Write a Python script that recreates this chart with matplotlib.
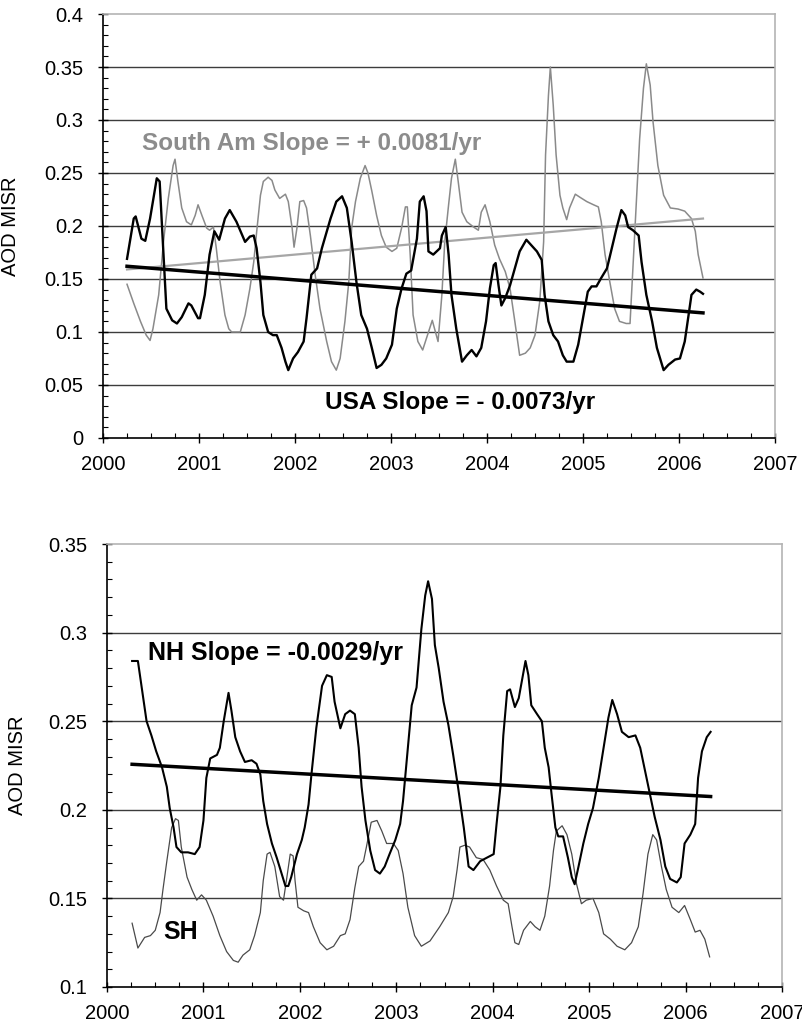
import numpy as np
import matplotlib
matplotlib.use("Agg")
import matplotlib.pyplot as plt
from matplotlib.ticker import MultipleLocator, FuncFormatter

plt.rcParams['font.family'] = ['Liberation Sans', 'DejaVu Sans']

# ---------------- top panel: USA and South America ----------------
usa_year = [2000.25, 2000.32, 2000.34, 2000.40, 2000.44, 2000.49, 2000.56, 2000.59, 2000.63, 2000.66,
            2000.72, 2000.77, 2000.82, 2000.89, 2000.92, 2000.99, 2001.01, 2001.06, 2001.11, 2001.16,
            2001.21, 2001.27, 2001.32, 2001.39, 2001.48, 2001.53, 2001.57, 2001.60, 2001.64, 2001.67,
            2001.72, 2001.77, 2001.81, 2001.86, 2001.90, 2001.93, 2001.98, 2002.03, 2002.09, 2002.12,
            2002.17, 2002.23, 2002.28, 2002.37, 2002.43, 2002.49, 2002.54, 2002.59, 2002.64, 2002.69,
            2002.75, 2002.80, 2002.85, 2002.90, 2002.95, 2003.01, 2003.06, 2003.11, 2003.16, 2003.21,
            2003.27, 2003.30, 2003.34, 2003.37, 2003.39, 2003.44, 2003.51, 2003.53, 2003.57, 2003.60,
            2003.63, 2003.68, 2003.74, 2003.79, 2003.84, 2003.89, 2003.94, 2003.99, 2004.03, 2004.07,
            2004.09, 2004.12, 2004.15, 2004.19, 2004.24, 2004.29, 2004.34, 2004.41, 2004.46, 2004.52,
            2004.57, 2004.60, 2004.64, 2004.69, 2004.74, 2004.79, 2004.83, 2004.90, 2004.95, 2005.00,
            2005.05, 2005.09, 2005.14, 2005.19, 2005.25, 2005.30, 2005.35, 2005.40, 2005.44, 2005.47,
            2005.52, 2005.58, 2005.61, 2005.66, 2005.72, 2005.77, 2005.84, 2005.89, 2005.96, 2006.01,
            2006.06, 2006.10, 2006.13, 2006.18, 2006.22, 2006.25]
usa_aod = [0.169, 0.207, 0.209, 0.188, 0.186, 0.207, 0.245, 0.242, 0.173, 0.122,
           0.111, 0.108, 0.114, 0.127, 0.125, 0.113, 0.113, 0.135, 0.173, 0.195,
           0.187, 0.207, 0.215, 0.204, 0.185, 0.190, 0.191, 0.179, 0.147, 0.116,
           0.100, 0.097, 0.097, 0.085, 0.072, 0.064, 0.075, 0.081, 0.091, 0.113,
           0.154, 0.160, 0.179, 0.207, 0.223, 0.228, 0.217, 0.185, 0.147, 0.116,
           0.103, 0.085, 0.066, 0.069, 0.075, 0.088, 0.122, 0.141, 0.155, 0.158,
           0.188, 0.223, 0.228, 0.214, 0.176, 0.173, 0.179, 0.191, 0.199, 0.173,
           0.135, 0.103, 0.072, 0.078, 0.083, 0.077, 0.085, 0.110, 0.141, 0.163,
           0.165, 0.144, 0.125, 0.132, 0.144, 0.160, 0.176, 0.187, 0.182, 0.176,
           0.168, 0.135, 0.110, 0.097, 0.091, 0.078, 0.072, 0.072, 0.088, 0.113,
           0.138, 0.143, 0.143, 0.151, 0.160, 0.179, 0.198, 0.215, 0.210, 0.199,
           0.196, 0.191, 0.166, 0.135, 0.110, 0.085, 0.064, 0.069, 0.074, 0.075,
           0.091, 0.116, 0.135, 0.140, 0.138, 0.136]

sam_year = [2000.25, 2000.32, 2000.39, 2000.45, 2000.49, 2000.52, 2000.58, 2000.63, 2000.68, 2000.73,
            2000.75, 2000.78, 2000.82, 2000.87, 2000.92, 2000.96, 2000.99, 2001.03, 2001.08, 2001.11,
            2001.15, 2001.18, 2001.22, 2001.27, 2001.31, 2001.34, 2001.43, 2001.48, 2001.53, 2001.57,
            2001.60, 2001.64, 2001.67, 2001.72, 2001.76, 2001.79, 2001.84, 2001.90, 2001.93, 2001.97,
            2001.99, 2002.02, 2002.05, 2002.09, 2002.12, 2002.16, 2002.21, 2002.26, 2002.33, 2002.38,
            2002.43, 2002.47, 2002.52, 2002.56, 2002.59, 2002.63, 2002.68, 2002.73, 2002.76, 2002.80,
            2002.85, 2002.90, 2002.95, 2003.01, 2003.06, 2003.11, 2003.15, 2003.17, 2003.20, 2003.23,
            2003.28, 2003.33, 2003.43, 2003.49, 2003.53, 2003.56, 2003.60, 2003.63, 2003.67, 2003.70,
            2003.74, 2003.79, 2003.86, 2003.91, 2003.94, 2003.98, 2004.03, 2004.08, 2004.13, 2004.19,
            2004.24, 2004.29, 2004.34, 2004.40, 2004.45, 2004.50, 2004.55, 2004.59, 2004.61, 2004.64,
            2004.66, 2004.69, 2004.72, 2004.76, 2004.79, 2004.83, 2004.86, 2004.92, 2004.97, 2005.04,
            2005.11, 2005.16, 2005.19, 2005.23, 2005.28, 2005.33, 2005.38, 2005.45, 2005.49, 2005.52,
            2005.56, 2005.59, 2005.63, 2005.66, 2005.70, 2005.73, 2005.78, 2005.84, 2005.91, 2005.99,
            2006.06, 2006.13, 2006.17, 2006.20, 2006.25]
sam_aod = [0.145, 0.127, 0.110, 0.097, 0.092, 0.103, 0.135, 0.185, 0.226, 0.257,
           0.263, 0.242, 0.217, 0.204, 0.201, 0.210, 0.220, 0.210, 0.198, 0.196,
           0.199, 0.179, 0.147, 0.116, 0.103, 0.100, 0.100, 0.116, 0.141, 0.166,
           0.194, 0.229, 0.242, 0.246, 0.243, 0.234, 0.226, 0.230, 0.223, 0.198,
           0.180, 0.198, 0.223, 0.224, 0.217, 0.191, 0.154, 0.122, 0.091, 0.072,
           0.064, 0.075, 0.110, 0.147, 0.198, 0.223, 0.245, 0.257, 0.250, 0.233,
           0.210, 0.191, 0.180, 0.176, 0.179, 0.198, 0.218, 0.218, 0.173, 0.116,
           0.091, 0.083, 0.111, 0.091, 0.135, 0.185, 0.220, 0.245, 0.263, 0.242,
           0.213, 0.204, 0.199, 0.196, 0.213, 0.220, 0.204, 0.182, 0.169, 0.157,
           0.141, 0.110, 0.078, 0.080, 0.085, 0.097, 0.129, 0.185, 0.267, 0.323,
           0.350, 0.314, 0.267, 0.229, 0.217, 0.206, 0.217, 0.230, 0.227, 0.223,
           0.220, 0.218, 0.204, 0.173, 0.147, 0.122, 0.110, 0.108, 0.108, 0.160,
           0.229, 0.282, 0.330, 0.353, 0.333, 0.298, 0.257, 0.229, 0.217, 0.216,
           0.214, 0.207, 0.195, 0.173, 0.151]

trend_year = [2000.25, 2006.25]
usa_trend = [0.162, 0.118]
sam_trend = [0.159, 0.207]

# ---------------- bottom panel: NH and SH ----------------
nh_year = [2000.26, 2000.32, 2000.36, 2000.41, 2000.46, 2000.51, 2000.57, 2000.62, 2000.65, 2000.69,
           2000.72, 2000.77, 2000.84, 2000.91, 2000.96, 2001.00, 2001.03, 2001.07, 2001.14, 2001.17,
           2001.21, 2001.26, 2001.29, 2001.33, 2001.38, 2001.43, 2001.50, 2001.55, 2001.59, 2001.62,
           2001.66, 2001.71, 2001.76, 2001.81, 2001.85, 2001.88, 2001.91, 2001.97, 2002.02, 2002.05,
           2002.09, 2002.12, 2002.17, 2002.23, 2002.28, 2002.33, 2002.36, 2002.42, 2002.47, 2002.52,
           2002.57, 2002.61, 2002.64, 2002.68, 2002.73, 2002.78, 2002.83, 2002.88, 2002.93, 2002.99,
           2003.04, 2003.07, 2003.12, 2003.16, 2003.21, 2003.26, 2003.30, 2003.33, 2003.37, 2003.40,
           2003.44, 2003.49, 2003.54, 2003.59, 2003.64, 2003.70, 2003.75, 2003.80, 2003.87, 2003.94,
           2004.01, 2004.04, 2004.08, 2004.11, 2004.15, 2004.18, 2004.23, 2004.27, 2004.34, 2004.37,
           2004.40, 2004.46, 2004.51, 2004.54, 2004.58, 2004.61, 2004.65, 2004.68, 2004.73, 2004.78,
           2004.82, 2004.85, 2004.89, 2004.94, 2004.99, 2005.04, 2005.10, 2005.15, 2005.20, 2005.24,
           2005.29, 2005.34, 2005.41, 2005.48, 2005.53, 2005.58, 2005.63, 2005.68, 2005.74, 2005.79,
           2005.84, 2005.91, 2005.95, 2005.99, 2006.05, 2006.10, 2006.13, 2006.17, 2006.22, 2006.26]
nh_aod = [0.284, 0.284, 0.269, 0.250, 0.242, 0.233, 0.224, 0.213, 0.201, 0.190,
          0.179, 0.176, 0.176, 0.175, 0.179, 0.194, 0.218, 0.229, 0.231, 0.235,
          0.250, 0.266, 0.256, 0.241, 0.233, 0.227, 0.228, 0.226, 0.220, 0.205,
          0.192, 0.181, 0.173, 0.164, 0.157, 0.157, 0.162, 0.175, 0.183, 0.190,
          0.203, 0.220, 0.246, 0.270, 0.276, 0.275, 0.261, 0.246, 0.254, 0.256,
          0.254, 0.235, 0.213, 0.194, 0.177, 0.166, 0.164, 0.168, 0.175, 0.183,
          0.192, 0.205, 0.235, 0.259, 0.269, 0.302, 0.321, 0.329, 0.319, 0.293,
          0.280, 0.261, 0.248, 0.231, 0.213, 0.190, 0.168, 0.166, 0.171, 0.173,
          0.175, 0.192, 0.213, 0.242, 0.267, 0.268, 0.258, 0.263, 0.284, 0.276,
          0.259, 0.254, 0.250, 0.235, 0.224, 0.209, 0.190, 0.185, 0.185, 0.173,
          0.162, 0.158, 0.168, 0.181, 0.192, 0.201, 0.218, 0.235, 0.252, 0.262,
          0.254, 0.244, 0.241, 0.242, 0.235, 0.222, 0.209, 0.196, 0.183, 0.168,
          0.161, 0.159, 0.162, 0.181, 0.186, 0.192, 0.218, 0.233, 0.241, 0.244]

sh_year = [2000.26, 2000.32, 2000.39, 2000.45, 2000.50, 2000.55, 2000.58, 2000.62, 2000.67, 2000.71,
           2000.74, 2000.77, 2000.83, 2000.88, 2000.93, 2000.98, 2001.03, 2001.10, 2001.17, 2001.24,
           2001.31, 2001.36, 2001.41, 2001.48, 2001.53, 2001.59, 2001.62, 2001.66, 2001.69, 2001.74,
           2001.79, 2001.83, 2001.86, 2001.90, 2001.93, 2001.95, 2001.98, 2002.04, 2002.09, 2002.14,
           2002.21, 2002.28, 2002.35, 2002.42, 2002.47, 2002.52, 2002.57, 2002.61, 2002.66, 2002.69,
           2002.74, 2002.80, 2002.85, 2002.90, 2002.97, 2003.02, 2003.07, 2003.12, 2003.19, 2003.26,
           2003.35, 2003.45, 2003.54, 2003.59, 2003.63, 2003.66, 2003.71, 2003.76, 2003.83, 2003.90,
           2003.97, 2004.04, 2004.11, 2004.16, 2004.20, 2004.23, 2004.27, 2004.32, 2004.39, 2004.44,
           2004.49, 2004.54, 2004.59, 2004.63, 2004.66, 2004.72, 2004.77, 2004.82, 2004.87, 2004.92,
           2004.97, 2005.04, 2005.10, 2005.15, 2005.22, 2005.29, 2005.37, 2005.44, 2005.51, 2005.56,
           2005.61, 2005.66, 2005.70, 2005.75, 2005.80, 2005.86, 2005.93, 2005.99, 2006.05, 2006.10,
           2006.15, 2006.20, 2006.25]
sh_aod = [0.136, 0.122, 0.128, 0.129, 0.132, 0.142, 0.155, 0.171, 0.190, 0.195,
          0.194, 0.179, 0.162, 0.155, 0.149, 0.152, 0.149, 0.140, 0.129, 0.120,
          0.115, 0.114, 0.118, 0.121, 0.129, 0.142, 0.160, 0.175, 0.176, 0.168,
          0.151, 0.149, 0.160, 0.175, 0.174, 0.160, 0.145, 0.143, 0.142, 0.134,
          0.125, 0.121, 0.123, 0.129, 0.130, 0.138, 0.156, 0.168, 0.171, 0.179,
          0.193, 0.194, 0.188, 0.181, 0.181, 0.177, 0.164, 0.145, 0.129, 0.123,
          0.126, 0.134, 0.142, 0.151, 0.166, 0.179, 0.180, 0.179, 0.173, 0.172,
          0.166, 0.157, 0.149, 0.147, 0.134, 0.125, 0.124, 0.132, 0.137, 0.134,
          0.132, 0.140, 0.157, 0.177, 0.188, 0.191, 0.186, 0.175, 0.158, 0.147,
          0.149, 0.150, 0.142, 0.130, 0.127, 0.123, 0.121, 0.125, 0.134, 0.153,
          0.175, 0.186, 0.183, 0.168, 0.155, 0.145, 0.142, 0.146, 0.138, 0.131,
          0.132, 0.127, 0.117]

nh_trend_year = [2000.26, 2006.26]
nh_trend = [0.2257, 0.2075]


def style(ax, ymin, ymax):
    ax.set_xlim(2000, 2007)
    ax.set_ylim(ymin, ymax)
    ax.xaxis.set_major_locator(MultipleLocator(1))
    ax.xaxis.set_minor_locator(MultipleLocator(0.25))
    ax.yaxis.set_major_locator(MultipleLocator(0.05))
    ax.yaxis.set_minor_locator(MultipleLocator(0.01))
    ax.xaxis.set_major_formatter(FuncFormatter(lambda v, p: '%d' % round(v)))
    ax.yaxis.set_major_formatter(FuncFormatter(lambda v, p: '%g' % round(v, 3)))
    # horizontal gridlines between bottom axis and top frame
    for g in np.arange(ymin + 0.05, ymax - 0.01, 0.05):
        ax.axhline(g, color='#3c3c3c', lw=1.0, zorder=1)
    ax.spines['left'].set_color('black')
    ax.spines['bottom'].set_color('black')
    ax.spines['left'].set_linewidth(1.2)
    ax.spines['bottom'].set_linewidth(1.2)
    ax.spines['top'].set_color('#b4b4b4')
    ax.spines['right'].set_color('#b4b4b4')
    ax.spines['top'].set_linewidth(1.2)
    ax.spines['right'].set_linewidth(1.2)
    ax.tick_params(which='major', direction='inout', length=7, width=1.0,
                   labelsize=14.5, top=False, right=False)
    ax.tick_params(axis='x', which='major', pad=9)
    ax.tick_params(axis='y', which='major', pad=11)
    ax.tick_params(which='minor', direction='in', length=3.5, width=0.8,
                   top=False, right=False)


fig = plt.figure(figsize=(8.03, 10.3), dpi=100)

ax1 = fig.add_axes([0.1283, 0.5748, 0.8368, 0.4116])
style(ax1, 0, 0.4)
ax1.plot(sam_year, sam_aod, color='#8a8a8a', lw=1.1, zorder=3)
ax1.plot(usa_year, usa_aod, color='black', lw=1.7, zorder=4)
ax1.plot(trend_year, sam_trend, color='#a6a6a6', lw=1.6, zorder=3)
ax1.plot(trend_year, usa_trend, color='black', lw=2.5, zorder=4)
ax1.text(2000.41, 0.278, 'South Am Slope = + 0.0081/yr', color='#8c8c8c',
         fontsize=17.5, fontweight='bold', ha='left', va='center')
ax1.text(2002.31, 0.033, 'USA Slope = - 0.0073/yr', color='black',
         fontsize=17.5, fontweight='bold', ha='left', va='center')
ax1.set_ylabel('AOD MISR', fontsize=14.5)
ax1.yaxis.set_label_coords(-0.123, 0.5)

ax2 = fig.add_axes([0.1333, 0.04175, 0.8405, 0.43005])
style(ax2, 0.1, 0.35)
ax2.plot(sh_year, sh_aod, color='#4a4a4a', lw=0.9, zorder=3)
ax2.plot(nh_year, nh_aod, color='black', lw=1.5, zorder=4)
ax2.plot(nh_trend_year, nh_trend, color='black', lw=2.5, zorder=4)
ax2.text(2000.425, 0.2887, 'NH Slope = -0.0029/yr', color='black',
         fontsize=18, fontweight='bold', ha='left', va='center')
ax2.text(2000.58, 0.1312, 'SH', color='black',
         fontsize=18, fontweight='bold', ha='left', va='center')
ax2.set_ylabel('AOD MISR', fontsize=14.5)
ax2.yaxis.set_label_coords(-0.118, 0.5)

fig.savefig('out.png', dpi=100)
